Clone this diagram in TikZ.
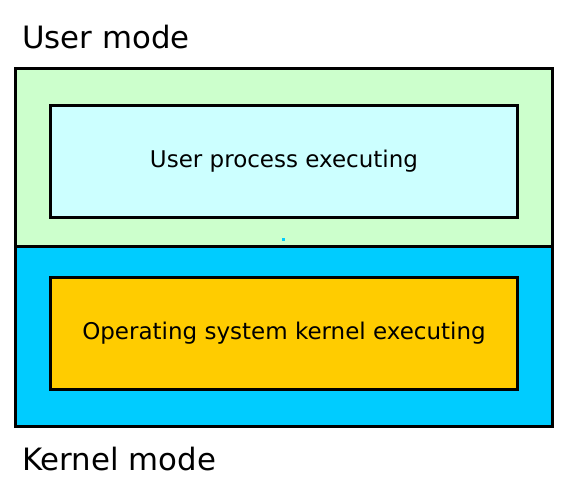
\documentclass[tikz,border=0pt]{standalone}
\usepackage{fontspec}
\setmainfont{DejaVu Sans}
\definecolor{usergreen}{HTML}{CCFFCC}
\definecolor{usercyan}{HTML}{CCFFFF}
\definecolor{kernblue}{HTML}{00CCFF}
\definecolor{kernorange}{HTML}{FFCC00}
\begin{document}
\begin{tikzpicture}[x=1pt,y=-1pt,
  modebox/.style={draw=black,line width=3pt},
  innerbox/.style={draw=black,line width=3pt,minimum width=467pt,minimum height=111.5pt,inner sep=0pt,font=\fontsize{23}{28}\selectfont},
  bigtext/.style={anchor=base west,inner sep=0pt,font=\fontsize{30.8}{36}\selectfont}]
\useasboundingbox (0,0) rectangle (568,493);
\filldraw[modebox,fill=usergreen] (15.5,68.5) rectangle (552.5,246.5);
\filldraw[modebox,fill=kernblue] (15.5,246.5) rectangle (552.5,426);
\node[innerbox,fill=usercyan] (user) at (284,161.5) {User process executing};
\node[innerbox,fill=kernorange] (kern) at (284,333.5) {Operating system kernel executing};
\fill[kernblue] (282,238) rectangle (285,241);
\node[bigtext] (um) at (22,48) {User mode};
\node[bigtext] (km) at (22,470) {Kernel mode};
\end{tikzpicture}
\end{document}
